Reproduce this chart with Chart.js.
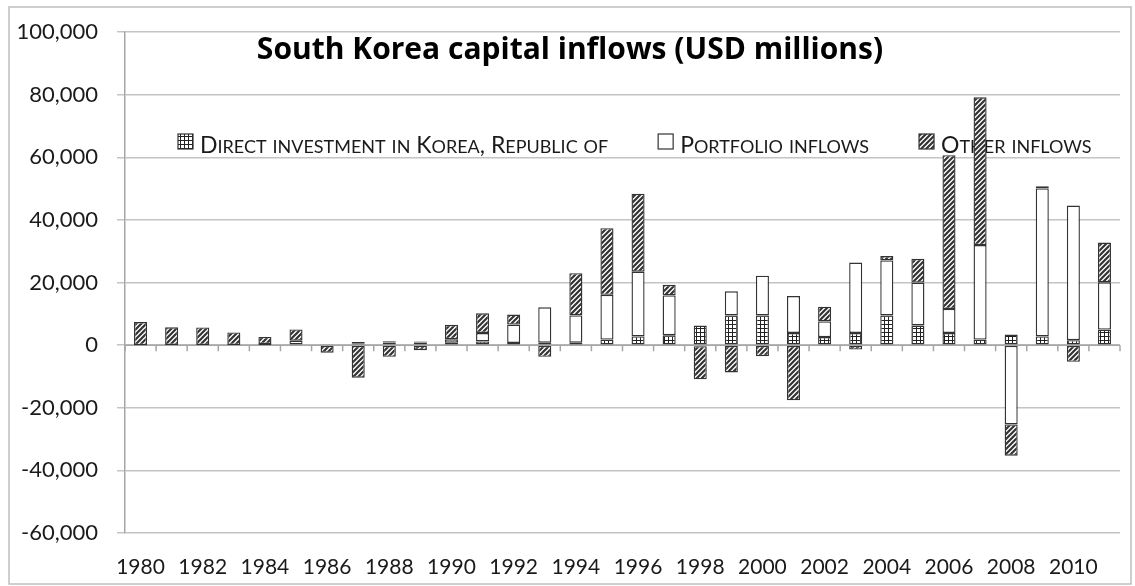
<!DOCTYPE html>
<html>
<head>
<meta charset="utf-8">
<script src="https://cdn.jsdelivr.net/npm/chart.js@4.4.0/dist/chart.umd.min.js"></script>
<style>
  html, body { margin: 0; padding: 0; background: #fff; }
  #wrap { width: 1135px; height: 586px; }
</style>
</head>
<body>
<div id="wrap"><canvas id="inflowChart"></canvas></div>
<script>
// USD millions
const years = ['1980', '1981', '1982', '1983', '1984', '1985', '1986', '1987', '1988', '1989',
               '1990', '1991', '1992', '1993', '1994', '1995', '1996', '1997', '1998', '1999',
               '2000', '2001', '2002', '2003', '2004', '2005', '2006', '2007', '2008', '2009',
               '2010', '2011'];
const directInvestment = [10, 100, 70, 70, 100, 230, 300, 500, 900, 900,
                          800, 1200, 700, 800, 800, 1800, 2800, 3200, 6300, 9500,
                          9500, 3900, 2600, 3900, 9500, 6300, 3900, 1800, 3400, 2800,
                          1600, 5000];
const portfolioInflows = [0, 0, 0, 0, 300, 1200, 0, 500, 400, 300,
                          1100, 2700, 5900, 11300, 8700, 14300, 20700, 12700, -300, 7700,
                          12700, 11800, 5000, 22500, 17600, 13700, 7700, 30200, -25300, 47300,
                          43000, 15100];
const otherInflows = [7400, 5600, 5600, 4000, 2250, 3600, -2400, -10400, -3700, -1600,
                      4600, 6300, 3200, -3700, 13500, 21300, 24900, 3400, -10600, -8700,
                      -3500, -17600, 4700, -1400, 1400, 7600, 49100, 47200, -10000, 700,
                      -5300, 12700];
const seriesNames = ['Direct investment in Korea, Republic of', 'Portfolio inflows', 'Other inflows'];
const chartTitle = 'South Korea capital inflows (USD millions)';

const FONT = 'Lato';
const TEXT = '#1a1a1a';
const GRID = '#c4c4c4';

function gridPattern() {
  const c = document.createElement('canvas');
  c.width = 4; c.height = 4;
  const g = c.getContext('2d');
  g.fillStyle = '#fff'; g.fillRect(0, 0, 4, 4);
  g.fillStyle = '#222'; g.fillRect(0, 0, 4, 1); g.fillRect(0, 0, 1, 4);
  return g.createPattern(c, 'repeat');
}

function hatchPattern() {
  const s = 5;
  const c = document.createElement('canvas');
  c.width = s; c.height = s;
  const g = c.getContext('2d');
  g.fillStyle = '#fff'; g.fillRect(0, 0, s, s);
  g.strokeStyle = '#333'; g.lineWidth = 2.2;
  g.beginPath();
  g.moveTo(-1, 1); g.lineTo(1, -1);
  g.moveTo(0, s); g.lineTo(s, 0);
  g.moveTo(s - 1, s + 1); g.lineTo(s + 1, s - 1);
  g.stroke();
  return g.createPattern(c, 'repeat');
}

const fills = [gridPattern(), '#ffffff', hatchPattern()];

// small caps by hand: lowercase letters drawn as smaller capitals
const SMALL = 0.8;
function capRuns(text) {
  const runs = [];
  for (const ch of text) {
    const small = ch !== ch.toUpperCase();
    const last = runs[runs.length - 1];
    if (last && last.small === small) last.t += small ? ch.toUpperCase() : ch;
    else runs.push({ small, t: small ? ch.toUpperCase() : ch });
  }
  return runs;
}
function smallCapsWidth(ctx, text, size) {
  let w = 0;
  capRuns(text).forEach(r => {
    ctx.font = `${r.small ? Math.round(size * SMALL) : size}px ${FONT}`;
    w += ctx.measureText(r.t).width;
  });
  return w;
}
function drawSmallCaps(ctx, text, x, y, size) {
  capRuns(text).forEach(r => {
    ctx.font = `${r.small ? Math.round(size * SMALL) : size}px ${FONT}`;
    ctx.fillText(r.t, x, y);
    x += ctx.measureText(r.t).width;
  });
}

const frameAndTitle = {
  id: 'frameAndTitle',
  beforeDraw(chart) {
    const ctx = chart.ctx;
    ctx.save();
    ctx.strokeStyle = '#bfbfbf';
    ctx.lineWidth = 1.5;
    ctx.strokeRect(9, 7, chart.width - 13, chart.height - 9);
    ctx.restore();
  },
  beforeDatasetsDraw(chart) {
    const { ctx, scales: { x, y } } = chart;
    ctx.save();
    // title
    ctx.fillStyle = '#000';
    ctx.font = `bold 30px "Open Sans"`;
    ctx.textAlign = 'center';
    ctx.textBaseline = 'alphabetic';
    ctx.fillText(chartTitle, 570, 59);

    // horizontal axis through zero, with tick marks between categories
    const y0 = y.getPixelForValue(0);
    const half = (x.getPixelForValue(1) - x.getPixelForValue(0)) / 2;
    ctx.strokeStyle = '#a6a6a6';
    ctx.lineWidth = 1.5;
    ctx.beginPath();
    ctx.moveTo(chart.chartArea.left, y0);
    ctx.lineTo(chart.chartArea.right, y0);
    for (let i = 0; i <= years.length; i++) {
      const px = x.getPixelForValue(0) - half + i * 2 * half;
      ctx.moveTo(px, y0);
      ctx.lineTo(px, y0 + 6);
    }
    ctx.stroke();

    // legend inside the plot
    ctx.textAlign = 'left';
    const size = 23;
    let lx = 178;
    const boxTop = 134, baseline = 153;
    seriesNames.forEach((name, i) => {
      ctx.fillStyle = fills[i];
      ctx.fillRect(lx, boxTop, 15, 15);
      ctx.strokeStyle = '#333';
      ctx.lineWidth = 1.2;
      ctx.strokeRect(lx, boxTop, 15, 15);
      ctx.fillStyle = TEXT;
      drawSmallCaps(ctx, name, lx + 22, baseline, size);
      lx += 22 + smallCapsWidth(ctx, name, size) + 50;
    });
    ctx.restore();
  }
};

const ctx = document.getElementById('inflowChart').getContext('2d');
const inflowChart = new Chart(ctx, {
  type: 'bar',
  data: {
    labels: years,
    datasets: [
      { label: seriesNames[0], data: directInvestment, backgroundColor: fills[0] },
      { label: seriesNames[1], data: portfolioInflows, backgroundColor: fills[1] },
      { label: seriesNames[2], data: otherInflows, backgroundColor: fills[2] }
    ].map(ds => Object.assign(ds, {
      borderColor: '#333',
      borderWidth: 1.4,
      borderSkipped: false,
      categoryPercentage: 1,
      barPercentage: 0.42
    }))
  },
  options: {
    responsive: true,
    maintainAspectRatio: false,
    animation: false,
    events: [],
    layout: { padding: { left: 9, right: 15, top: 31, bottom: 0 } },
    scales: {
      x: {
        stacked: true,
        grid: { display: false, drawTicks: false },
        border: { display: false },
        ticks: {
          autoSkip: false,
          maxRotation: 0,
          padding: 22,
          color: TEXT,
          font: { family: FONT, size: 21 },
          callback: function (v, i) { return i % 2 === 0 ? this.getLabelForValue(v) : ''; }
        },
        afterFit: s => { s.height = 53; }
      },
      y: {
        stacked: true,
        min: -60000,
        max: 100000,
        grid: { color: GRID, lineWidth: 1.5, tickLength: 8 },
        border: { display: true, color: '#a6a6a6', width: 1.5 },
        ticks: {
          stepSize: 20000,
          padding: 19,
          color: TEXT,
          font: { family: FONT, size: 22 },
          callback: v => v.toLocaleString('en-US')
        },
        afterFit: s => { s.width = 116; }
      }
    },
    plugins: {
      legend: { display: false },
      title: { display: false },
      tooltip: { enabled: false }
    }
  },
  plugins: [frameAndTitle]
});
</script>
</body>
</html>
